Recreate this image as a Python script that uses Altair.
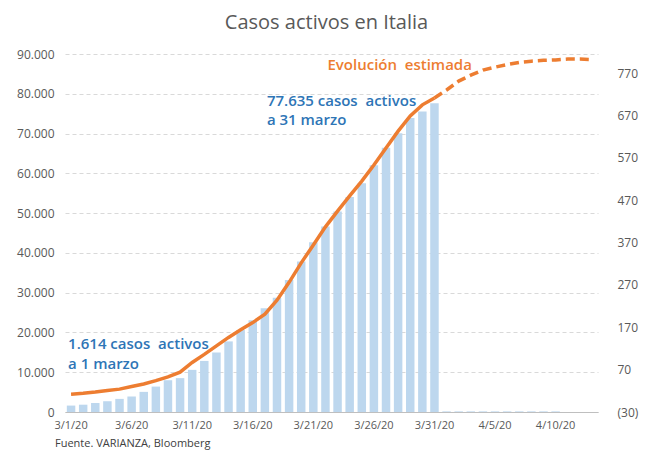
import altair as alt
import pandas as pd

# Categorías (fechas diarias del eje X)
fechas = [f"3/{d}/20" for d in range(1, 32)] + [f"4/{d}/20" for d in range(1, 14)]
etiquetas_x = ["3/1/20", "3/6/20", "3/11/20", "3/16/20", "3/21/20", "3/26/20",
               "3/31/20", "4/5/20", "4/10/20"]

# Casos activos (eje izquierdo)
casos = [1614, 1835, 2263, 2706, 3296, 3916, 5061, 6387, 7985, 8514,
         10590, 12839, 14955, 17750, 20603, 23073, 26062, 28710, 33190, 37860,
         42681, 46638, 50418, 54030, 57521, 62013, 66414, 70065, 73880, 75528,
         77635,
         150, 150, 150, 150, 150, 150, 150, 150, 150, 150,
         None, None, None]

# Evolución estimada (eje derecho)
modelo = [12, 14, 17, 21, 24, 30, 36, 44, 53, 64,
          87, 106, 126, 146, 164, 181, 201, 234, 276, 322,
          364, 407, 444, 480, 515, 553, 593, 633, 669, 695,
          711, 730, 751, 765, 777, 784, 790, 795, 798, 800,
          801, 803, 803, 802]

ticks_izq = [0, 10000, 20000, 30000, 40000, 50000, 60000, 70000, 80000, 90000]
ticks_der = [-30, 70, 170, 270, 370, 470, 570, 670, 770]

# Anotaciones
nota1_texto = ["1.614 casos\u00a0 activos", "a 1 marzo"]
nota1_fecha = ["3/1/20", "3/1/20"]
nota1_valor = [15840, 10810]
nota2_texto = ["77.635 casos\u00a0 activos", "a 31 marzo"]
nota2_fecha = ["3/17/20", "3/17/20"]
nota2_valor = [77000, 72050]
nota_est_texto = ["Evolución\u00a0 estimada"]
nota_est_fecha = ["3/22/20"]
nota_est_valor = [85970]

df = pd.DataFrame({"idx": list(range(len(fechas))), "fecha": fechas,
                   "casos": casos, "modelo": modelo})
df_n1 = pd.DataFrame({"texto": nota1_texto, "fecha": nota1_fecha, "v": nota1_valor})
df_n2 = pd.DataFrame({"texto": nota2_texto, "fecha": nota2_fecha, "v": nota2_valor})
df_est = pd.DataFrame({"texto": nota_est_texto, "fecha": nota_est_fecha, "v": nota_est_valor})

FONT = "Open Sans"
GRIS = "#595959"
AZUL = "#2E75B6"
NARANJA = "#ED7D31"

x_enc = alt.X("fecha:O", sort=fechas,
              scale=alt.Scale(domain=fechas, paddingInner=0.3, paddingOuter=0.15),
              axis=alt.Axis(title=None, values=etiquetas_x, labelAngle=0,
                            ticks=False, domainColor="#BFBFBF", domainWidth=1,
                            labelColor=GRIS, labelFontSize=11, labelFont=FONT,
                            labelPadding=7, grid=False))

y_izq_scale = alt.Scale(domain=[0, 90000], nice=False)
y_izq_axis = alt.Axis(title=None, values=ticks_izq, orient="left",
                      labelExpr="replace(format(datum.value, ','), ',', '.')",
                      domain=False, ticks=False, labelPadding=11,
                      labelOverlap=False,
                      labelColor=GRIS, labelFontSize=12, labelFont=FONT,
                      grid=True, gridColor="#D9D9D9", gridDash=[4, 3],
                      gridWidth=1)

barras = alt.Chart(df).mark_bar(color="#BDD7EE").encode(
    x=x_enc,
    y=alt.Y("casos:Q", scale=y_izq_scale, axis=y_izq_axis),
)


def nota(data, color, dx):
    return alt.Chart(data).mark_text(
        align="left", baseline="alphabetic", dx=dx, font=FONT, fontSize=15,
        fontWeight=600, color=color
    ).encode(
        x=alt.X("fecha:O", sort=fechas),
        y=alt.Y("v:Q", scale=y_izq_scale, axis=y_izq_axis),
        text="texto:N",
    )


nota1 = nota(df_n1, AZUL, -3)
nota2 = nota(df_n2, AZUL, 2)
nota_est = nota(df_est, NARANJA, 2)

fuente = alt.Chart(pd.DataFrame({"t": ["Fuente. VARIANZA, Bloomberg"]})).mark_text(
    align="left", baseline="middle", font=FONT, fontSize=11, color="#404040"
).encode(x=alt.value(-10), y=alt.value(390), text="t:N")

y_der_scale = alt.Scale(domain=[-30, 815], nice=False, zero=False)
y_der_axis = alt.Axis(title=None, values=ticks_der, orient="right",
                      labelExpr="datum.value < 0 ? '(' + format(-datum.value, 'd') + ')' : format(datum.value, 'd')",
                      domain=False, ticks=False, labelPadding=19, labelAlign="left",
                      labelOverlap=False,
                      labelColor=GRIS, labelFontSize=12, labelFont=FONT, grid=False)

linea = alt.Chart(df).transform_filter("datum.idx <= 30").mark_line(
    color=NARANJA, strokeWidth=3.5
).encode(
    x=alt.X("fecha:O", sort=fechas),
    y=alt.Y("modelo:Q", scale=y_der_scale, axis=y_der_axis),
)

linea_est = alt.Chart(df).transform_filter("datum.idx >= 30").mark_line(
    color=NARANJA, strokeWidth=3.5, strokeDash=[9, 5]
).encode(
    x=alt.X("fecha:O", sort=fechas),
    y=alt.Y("modelo:Q", scale=y_der_scale, axis=y_der_axis),
)

izq = alt.layer(barras, nota1, nota2, nota_est, fuente)
der = alt.layer(linea, linea_est)

chart = alt.layer(izq, der).resolve_scale(y="independent").properties(
    width=533, height=358,
    title=alt.TitleParams("Casos activos en Italia", fontSize=20, color=GRIS,
                          font=FONT, fontWeight="normal", anchor="middle",
                          offset=15, dx=-5),
    autosize=alt.AutoSizeParams(type="none"),
    padding={"left": 57, "top": 46, "right": 48, "bottom": 40},
).configure_view(stroke=None)

chart.save("out.html", embed_options={"renderer": "svg", "actions": False})
